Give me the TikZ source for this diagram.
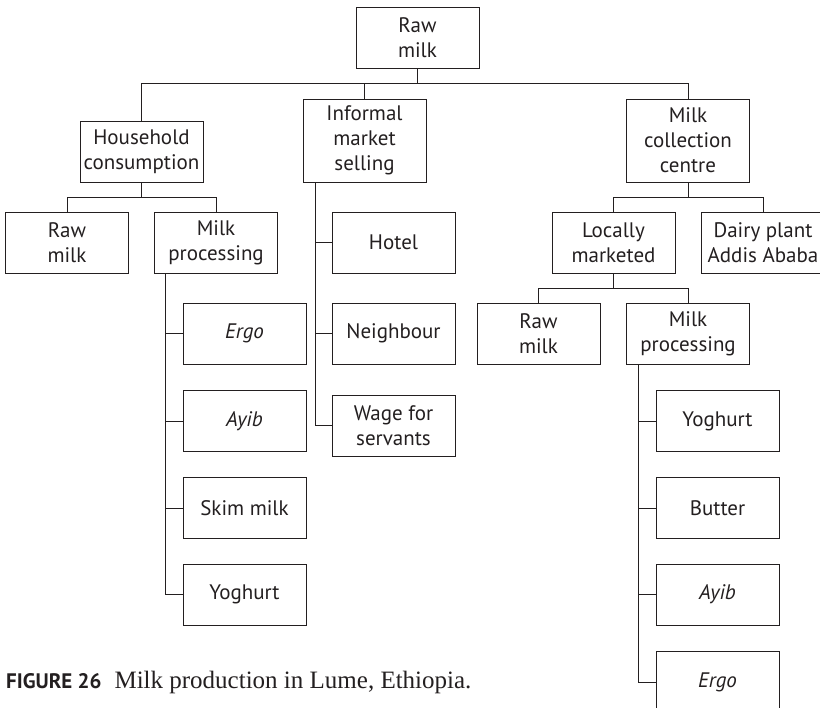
\documentclass[tikz,border=0pt]{standalone}
\usepackage{fontspec}
\setmainfont{PT Sans}
\newfontfamily\capserif{Liberation Serif}
\usetikzlibrary{calc}
\definecolor{ink}{HTML}{231F20}
\begin{document}
\begin{tikzpicture}[x=1pt,y=-1pt,
  box/.style={draw=ink, line width=0.9pt, minimum width=123pt, minimum height=61pt,
    inner sep=0pt, align=center, text=ink, font=\fontsize{21}{25}\selectfont},
  tall/.style={box, minimum height=83pt},
  link/.style={draw=ink, line width=0.9pt}]
\clip (0,0) rectangle (820,708);
\useasboundingbox (0,0) rectangle (820,708);

% top level
\node[box]  (root)     at (417.5,37.5)  {Raw\\milk};
\node[box]  (house)    at (141.5,151.5) {Household\\consumption};
\node[tall] (informal) at (364.5,140.5) {Informal\\market\\selling};
\node[tall] (collect)  at (688,140.5)   {Milk\\collection\\centre};

% household branch
\node[box] (rawL)  at (67,242.5)    {Raw\\milk};
\node[box] (procL) at (216,242.5)   {Milk\\processing};
\node[box] (ergoL) at (244.5,333.5) {\itshape Ergo};
\node[box] (ayibL) at (244.5,421)   {\itshape Ayib};
\node[box] (skimL) at (244.5,508)   {Skim milk};
\node[box] (yogL)  at (244.5,594.5) {Yoghurt};

% informal market branch
\node[box] (hotel) at (393.5,242.5) {Hotel};
\node[box] (neigh) at (393.5,333.5) {Neighbour};
\node[box] (wage)  at (393.5,425.5) {Wage for\\servants};

% collection centre branch
\node[box] (local)  at (613.5,242.5) {Locally\\marketed};
\node[box] (dairy)  at (763,242.5)   {Dairy plant\\Addis Ababa};
\node[box] (rawR)   at (538.5,333.5) {Raw\\milk};
\node[box] (procR)  at (688,333.5)   {Milk\\processing};
\node[box] (yogR)   at (717.5,421)   {Yoghurt};
\node[box] (butter) at (717.5,508)   {Butter};
\node[box] (ayibR)  at (717.5,594.5) {\itshape Ayib};
\node[box] (ergoR)  at (717.5,682)   {\itshape Ergo};

% bus lines
\coordinate (bus0) at (0,83);
\coordinate (bus1) at (0,197);
\coordinate (bus2) at (0,197);
\coordinate (bus3) at (0,288);

\draw[link] (root.south) -- (root.south |- bus0);
\draw[link] (house.north) -- (house.north |- bus0) -- (collect.north |- bus0) -- (collect.north);
\draw[link] (informal.north) -- (informal.north |- bus0);

\draw[link] (house.south) -- (house.south |- bus1);
\draw[link] (rawL.north) -- (rawL.north |- bus1) -- (procL.north |- bus1) -- (procL.north);

\draw[link] (collect.south) -- (collect.south |- bus2);
\draw[link] (local.north) -- (local.north |- bus2) -- (dairy.north |- bus2) -- (dairy.north);

\draw[link] (local.south) -- (local.south |- bus3);
\draw[link] (rawR.north) -- (rawR.north |- bus3) -- (procR.north |- bus3) -- (procR.north);

% vertical trunks with side branches
\coordinate (tL) at ([xshift=11pt]procL.south west);
\draw[link] (tL) |- (yogL.west);
\foreach \n in {ergoL,ayibL,skimL} \draw[link] (tL |- \n.west) -- (\n.west);

\coordinate (tI) at ([xshift=13pt]informal.south west);
\draw[link] (tI) |- (wage.west);
\foreach \n in {hotel,neigh} \draw[link] (tI |- \n.west) -- (\n.west);

\coordinate (tR) at ([xshift=12pt]procR.south west);
\draw[link] (tR) |- (ergoR.west);
\foreach \n in {yogR,butter,ayibR} \draw[link] (tR |- \n.west) -- (\n.west);

% caption
\node[anchor=base west, inner sep=0pt, text=ink] (cap) at (6,688)
  {{\bfseries\fontsize{21}{24}\selectfont FIGURE 26}\hspace{13pt}{\capserif\fontsize{25}{28}\selectfont Milk production in Lume, Ethiopia.}};
\end{tikzpicture}
\end{document}
